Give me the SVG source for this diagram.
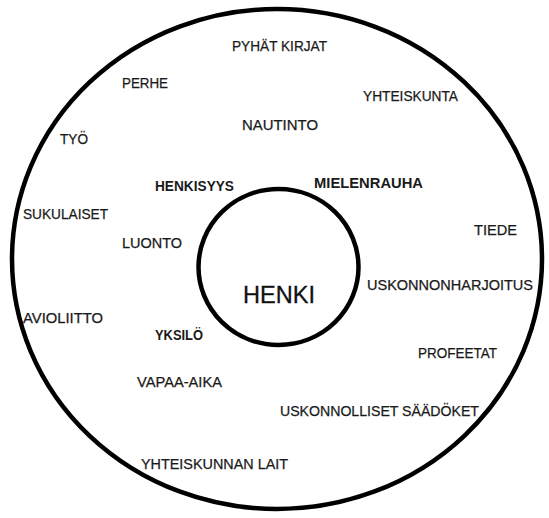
<svg xmlns="http://www.w3.org/2000/svg" width="549" height="518" viewBox="0 0 549 518">
<style>
.ring{fill:none;stroke:#000;stroke-width:4.5}
.t{font-family:"Liberation Sans",Arial,sans-serif;font-size:14px;fill:#1a1a1a;stroke:#1a1a1a;stroke-width:0.25}
.b{font-weight:bold;stroke-width:0}
.big{font-family:"Liberation Sans",Arial,sans-serif;font-size:24px;fill:#111;stroke:#111;stroke-width:0.3}
</style>
<rect width="549" height="518" fill="#fff"/>
<g id="outer">
<ellipse class="ring" cx="277" cy="259" rx="265" ry="250"/>
<text class="t" x="232" y="51" textLength="95" lengthAdjust="spacingAndGlyphs">PYHÄT KIRJAT</text>
<text class="t" x="122" y="88" textLength="46" lengthAdjust="spacingAndGlyphs">PERHE</text>
<text class="t" x="363" y="101" textLength="95" lengthAdjust="spacingAndGlyphs">YHTEISKUNTA</text>
<text class="t" x="242" y="130" textLength="76" lengthAdjust="spacingAndGlyphs">NAUTINTO</text>
<text class="t" x="60" y="144" textLength="28" lengthAdjust="spacingAndGlyphs">TYÖ</text>
<text class="t b" x="155" y="191" textLength="79" lengthAdjust="spacingAndGlyphs">HENKISYYS</text>
<text class="t b" x="314" y="188" textLength="109" lengthAdjust="spacingAndGlyphs">MIELENRAUHA</text>
<text class="t" x="23" y="219" textLength="85" lengthAdjust="spacingAndGlyphs">SUKULAISET</text>
<text class="t" x="474" y="235" textLength="43" lengthAdjust="spacingAndGlyphs">TIEDE</text>
<text class="t" x="122" y="248" textLength="60" lengthAdjust="spacingAndGlyphs">LUONTO</text>
<text class="t" x="367" y="290" textLength="166" lengthAdjust="spacingAndGlyphs">USKONNONHARJOITUS</text>
<text class="t" x="23" y="323" textLength="80" lengthAdjust="spacingAndGlyphs">AVIOLIITTO</text>
<text class="t b" x="155" y="340" textLength="48" lengthAdjust="spacingAndGlyphs">YKSILÖ</text>
<text class="t" x="418" y="358" textLength="79" lengthAdjust="spacingAndGlyphs">PROFEETAT</text>
<text class="t" x="137" y="387" textLength="85" lengthAdjust="spacingAndGlyphs">VAPAA-AIKA</text>
<text class="t" x="280" y="416" textLength="199" lengthAdjust="spacingAndGlyphs">USKONNOLLISET SÄÄDÖKET</text>
<text class="t" x="141" y="469" textLength="147" lengthAdjust="spacingAndGlyphs">YHTEISKUNNAN LAIT</text>
</g>
<g id="henki">
<ellipse class="ring" cx="278.5" cy="267" rx="80" ry="78"/>
<text class="big" x="243" y="303" textLength="72" lengthAdjust="spacingAndGlyphs">HENKI</text>
</g>
</svg>
